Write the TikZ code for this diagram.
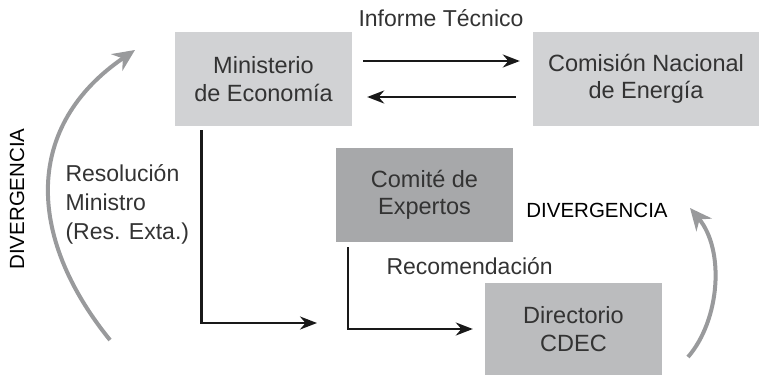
\documentclass[tikz,border=0pt]{standalone}
\usepackage{fontspec}
\setmainfont{Liberation Sans}
\usetikzlibrary{arrows.meta}
\definecolor{boxlight}{HTML}{D1D2D4}
\definecolor{boxmid}{HTML}{BBBCBE}
\definecolor{boxdark}{HTML}{A7A8AA}
\definecolor{textgray}{HTML}{333333}
\definecolor{curvegray}{HTML}{999A9C}

\begin{document}
\begin{tikzpicture}[x=1pt,y=-1pt,
        unit/.style={
            fill=#1,
            minimum width=177pt,
            minimum height=94pt,
            inner sep=0pt,
            align=center,
            text=textgray,
            font=\fontsize{23.5}{27.5}\selectfont,
        },
        flow/.style={
            draw=black!90,
            line width=2.5pt,
            -{Stealth[length=17pt,width=13pt]},
        },
        bendback/.style={
            draw=curvegray,
            line width=4pt,
            -{Stealth[length=22pt,width=20pt]},
        },
        lbl/.style={
            text=textgray,
            font=\fontsize{23}{29}\selectfont,
        },
        shout/.style={
            text=black,
            font=\fontsize{20.5}{24}\selectfont,
        }
    ]
    \useasboundingbox (0,0) rectangle (759,375);

    \node[unit=boxlight] (mini) at (263.5,79) {Ministerio\\de Economía};
    \node[unit=boxlight, minimum width=226pt] (cne) at (646,79) {Comisión Nacional\\de Energía};
    \node[unit=boxdark] (comite) at (424.5,195) {Comité de\\Expertos};
    \node[unit=boxmid, minimum height=92pt] (cdec) at (573.5,329) {Directorio\\CDEC};

    \node[lbl] (informe) at (441,18) {Informe Técnico};
    \node[lbl, anchor=west, align=left] (resol) at (62,204) {Resolución\\Ministro\\(Res. Exta.)};
    \node[lbl, anchor=west] (recom) at (383,266) {Recomendación};
    \node[shout, rotate=90] (divleft) at (17,199) {DIVERGENCIA};
    \node[shout] (divright) at (597,210) {DIVERGENCIA};

    \coordinate (mtail) at (317,323);

    \draw[flow, shorten <=11pt, shorten >=13pt]
        ([yshift=18pt]mini.east) -- ([yshift=18pt]mini.east -| cne.west);
    \draw[flow, shorten <=17pt, shorten >=15pt]
        ([yshift=-18pt]cne.west) -- ([yshift=-18pt]cne.west -| mini.east);
    \draw[flow, shorten <=4pt]
        ([xshift=-62pt]mini.south) |- (mtail);
    \draw[flow, shorten <=5pt, shorten >=12pt]
        ([xshift=-76.5pt]comite.south) |- (cdec.west);

    \draw[bendback] (110,340) .. controls (25,235) and (25,125) .. (135,50);
    \draw[bendback] (688,357) .. controls (720,320) and (725,250) .. (690,208);
\end{tikzpicture}
\end{document}
